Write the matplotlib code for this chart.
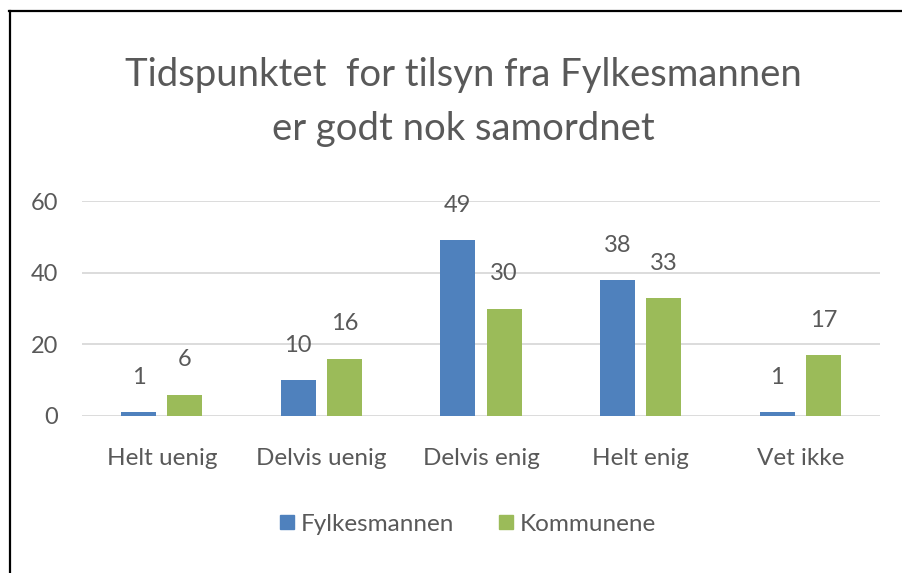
import matplotlib
matplotlib.use("Agg")
import matplotlib.pyplot as plt
from matplotlib.lines import Line2D
import numpy as np

categories = ["Helt uenig", "Delvis uenig", "Delvis enig", "Helt enig", "Vet ikke"]
fylkesmannen = [1, 10, 49, 38, 1]
kommunene = [6, 16, 30, 33, 17]
series_names = ["Fylkesmannen", "Kommunene"]
yticks = [0, 20, 40, 60]

BLUE = "#4F81BD"
GREEN = "#9BBB59"
TEXT = "#595959"
FONT = "Lato"

plt.rcParams['font.family'] = [FONT, 'DejaVu Sans']

fig = plt.figure(figsize=(9.02, 5.73), dpi=100)
ax = fig.add_axes([82/902, 157/573, 798/902, 215/573])

x = np.arange(len(categories))
w = 0.22
off = 0.145
b1 = ax.bar(x - off, fylkesmannen, w, color=BLUE, label=series_names[0], zorder=3)
b2 = ax.bar(x + off, kommunene, w, color=GREEN, label=series_names[1], zorder=3)

for bars, vals in ((b1, fylkesmannen), (b2, kommunene)):
    for rect, v in zip(bars, vals):
        ax.annotate(str(v), (rect.get_x() + rect.get_width()/2, v),
                    xytext=(0, 25), textcoords="offset points",
                    ha="center", va="center", fontsize=17, color=TEXT)

ax.set_xlim(-0.5, 4.5)
ax.set_ylim(0, 60)
ax.set_yticks(yticks)
ax.set_xticks(x)
ax.set_xticklabels(categories)
ax.tick_params(axis='x', length=0, pad=23, labelsize=17.5, labelcolor=TEXT)
ax.tick_params(axis='y', length=0, pad=17, labelsize=17, labelcolor=TEXT)
ax.grid(axis='y', color="#D9D9D9", linewidth=1.3, zorder=0)
for s in ax.spines.values():
    s.set_visible(False)

fig.text(463/902, 1 - 102/573, "Tidspunktet  for tilsyn fra Fylkesmannen\ner godt nok samordnet",
         ha="center", va="center", fontsize=27.5, color=TEXT, linespacing=1.6)

handles = [Line2D([], [], marker='s', linestyle='None', markersize=10, color=BLUE),
           Line2D([], [], marker='s', linestyle='None', markersize=10, color=GREEN)]
fig.legend(handles, series_names, loc="center", bbox_to_anchor=(467/902, 1 - 524/573),
           ncol=2, frameon=False, fontsize=17.5, labelcolor=TEXT, handletextpad=0.2,
           columnspacing=1.8, handlelength=0.7)

# border (top and left)
fig.add_artist(Line2D([9.5/902, 9.5/902], [0, 1 - 11/573], transform=fig.transFigure,
                      color="black", linewidth=1.6))
fig.add_artist(Line2D([9/902, 1], [1 - 11/573, 1 - 11/573], transform=fig.transFigure,
                      color="black", linewidth=1.6))

fig.savefig("out.png", dpi=100)
